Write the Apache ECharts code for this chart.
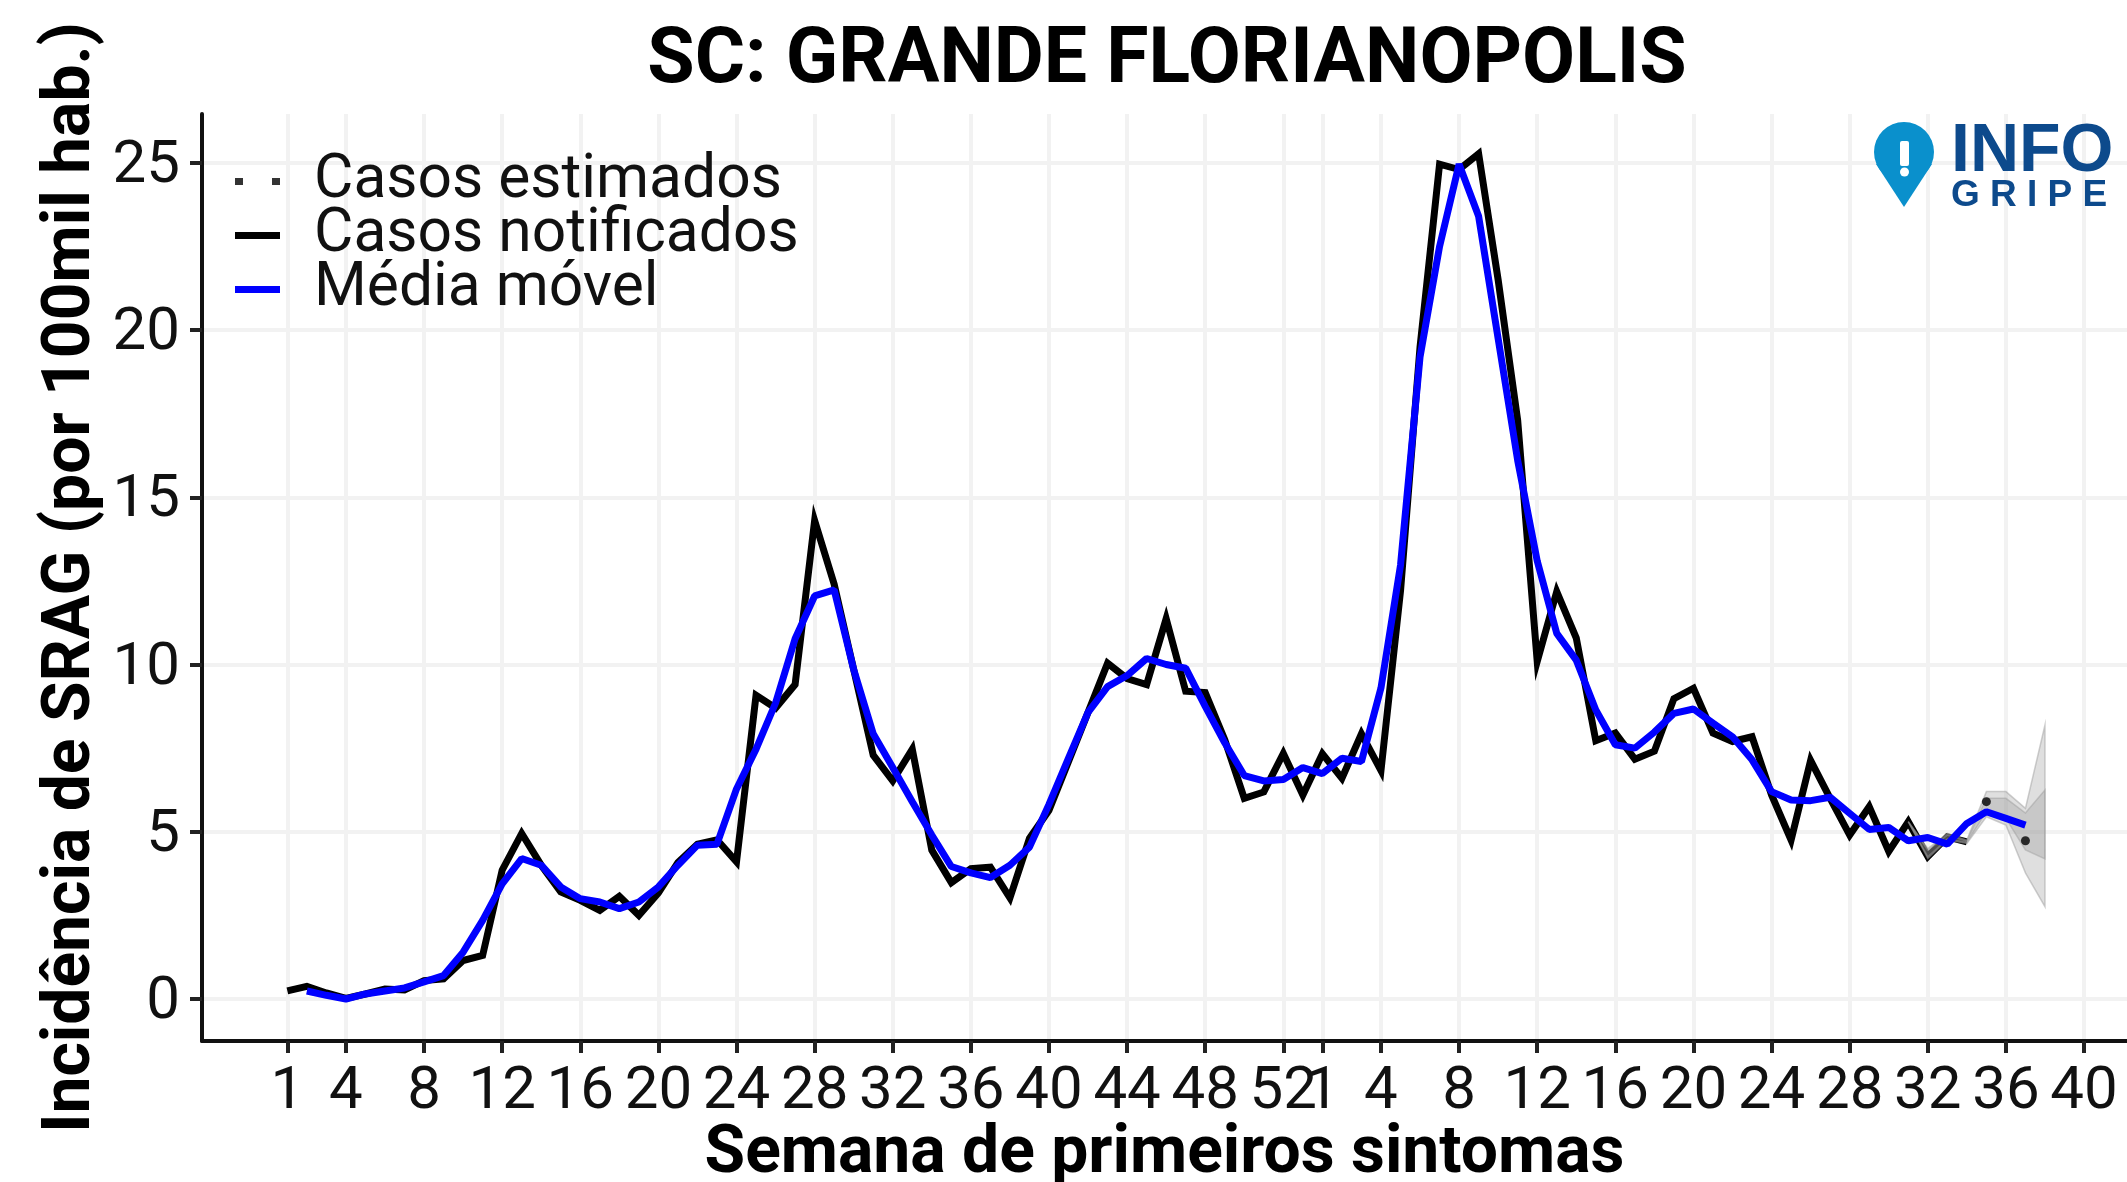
<!DOCTYPE html>
<html>
<head>
<meta charset="utf-8">
<style>html,body{margin:0;padding:0;background:#fff}#c{width:2127px;height:1182px;filter:blur(0.7px)}</style>
<script src="https://cdn.jsdelivr.net/npm/echarts@6/dist/echarts.min.js"></script>
</head>
<body>
<div id="c"></div>
<script>
// Sequential week index: 1..53 = first year, 54.. = second year
const tickIndex = [1,4,8,12,16,20,24,28,32,36,40,44,48,52,54,57,61,65,69,73,77,81,85,89,93];
const tickLabels = ['1','4','8','12','16','20','24','28','32','36','40','44','48','52','1','4','8','12','16','20','24','28','32','36','40'];
const yTicks = [0,5,10,15,20,25];

const notifiedStart = 1;
const notified = [0.24,0.38,0.18,0.02,0.15,0.3,0.27,0.55,0.6,1.15,1.3,3.85,4.95,4.0,3.2,2.95,2.65,3.07,2.5,3.17,
  4.08,4.63,4.76,4.1,9.08,8.7,9.4,14.3,12.4,9.85,7.29,6.52,7.47,4.45,3.48,3.9,3.94,3.02,4.8,5.64,
  7.1,8.57,10.04,9.58,9.4,11.37,9.2,9.16,7.75,6.0,6.19,7.34,6.1,7.33,6.6,7.93,6.83,12.2,19.5,24.96,
  24.8,25.27,21.5,17.3,10.09,12.18,10.79,7.72,7.95,7.17,7.41,8.98,9.29,7.95,7.7,7.84,6.1,4.75,7.13,6.0,
  4.9,5.75,4.41,5.3,4.26,4.85,4.7];

const movingStart = 2;
const moving = [0.24,0.11,0.0,0.15,0.24,0.33,0.51,0.7,1.4,2.35,3.44,4.2,4.0,3.35,3.0,2.9,2.7,2.9,3.35,
  4.0,4.6,4.63,6.28,7.47,8.85,10.77,12.05,12.23,9.85,7.93,6.92,5.9,4.9,3.96,3.77,3.63,4.0,4.54,5.82,
  7.2,8.57,9.34,9.67,10.18,10.0,9.89,8.75,7.66,6.68,6.52,6.56,6.92,6.74,7.2,7.1,9.3,12.97,19.2,22.5,
  24.96,23.4,19.74,16.1,13.1,10.93,10.13,8.64,7.6,7.5,7.98,8.54,8.67,8.25,7.84,7.15,6.2,5.95,5.93,6.03,
  5.55,5.07,5.13,4.73,4.83,4.63,5.25,5.6,5.4,5.2];

const estimatedWeeks = [88,90];
const estimatedValues = [5.9,4.73];

const ribbonWeeks = [84,85,86,87,88,89,90,91];
const outerLow  = [5.3,4.2,4.75,4.65,5.45,5.2,3.77,2.76];
const outerHigh = [5.3,4.5,4.95,4.75,6.2,6.2,5.7,8.19];
const innerLow  = [5.3,4.25,4.78,4.68,5.6,5.4,4.46,4.19];
const innerHigh = [5.3,4.45,4.9,4.72,6.0,6.0,5.56,6.25];

const pair = (start, arr) => arr.map((v, i) => [start + i, v]);
const ribbon = (low, high, color, stroke) => ({
  type: 'custom', silent: true, clip: true, z: 3,
  data: [[ribbonWeeks[0], low[0]]],
  renderItem: (p, api) => {
    const pts = [];
    ribbonWeeks.forEach((w, i) => pts.push(api.coord([w, high[i]])));
    for (let i = ribbonWeeks.length - 1; i >= 0; i--) pts.push(api.coord([ribbonWeeks[i], low[i]]));
    return {type: 'polygon', shape: {points: pts},
      style: {fill: color, stroke: stroke, lineWidth: 1.5}};
  }
});

const FONT = 'Roboto';
const chart = echarts.init(document.getElementById('c'), null, {renderer: 'canvas'});
chart.setOption({
  animation: false,
  backgroundColor: '#fff',
  title: {
    text: 'SC: GRANDE FLORIANOPOLIS', left: 1162, top: 19, textAlign: 'center',
    textStyle: {fontFamily: FONT, fontWeight: 'bold', fontSize: 77, color: '#000'}
  },
  grid: {left: 202, right: 0, top: 114, bottom: 141, outerBoundsMode: 'none'},
  legend: {
    left: 230, top: 146, orient: 'vertical', itemWidth: 45, itemHeight: 7, itemGap: -7,
    symbolKeepAspect: false, selectedMode: false,
    textStyle: {fontFamily: FONT, fontSize: 60.5, color: '#111', lineHeight: 51, padding: [0,0,0,29]},
    data: [
      {name: 'Casos estimados', icon: 'path://M0 0H8V7H0ZM37 0H45V7H37Z'},
      {name: 'Casos notificados', icon: 'rect'},
      {name: 'Média móvel', icon: 'path://M0 1H45V6H0Z'}
    ]
  },
  xAxis: {
    type: 'value', min: -3.37, max: 95.2,
    name: 'Semana de primeiros sintomas', nameLocation: 'center', nameGap: 81, nameMoveOverlap: false,
    nameTextStyle: {fontFamily: FONT, fontWeight: 'bold', fontSize: 66, color: '#000'},
    axisLine: {onZero: false, lineStyle: {color: '#111', width: 4}},
    axisTick: {length: 12, customValues: tickIndex, lineStyle: {color: '#222', width: 4}},
    axisLabel: {
      customValues: tickIndex, margin: 22, hideOverlap: false,
      fontFamily: FONT, fontSize: 60, color: '#111',
      formatter: v => tickLabels[tickIndex.indexOf(v)]
    },
    splitLine: {show: true, lineStyle: {color: '#f2f2f2', width: 4}}
  },
  yAxis: {
    type: 'value', min: -1.256, max: 26.46,
    name: 'Incidência de SRAG (por 100mil hab.)', nameLocation: 'center', nameGap: 97, nameRotate: 90, nameMoveOverlap: false,
    nameTextStyle: {fontFamily: FONT, fontWeight: 'bold', fontSize: 66, color: '#000'},
    axisLine: {onZero: false, lineStyle: {color: '#111', width: 4}},
    axisTick: {length: 12, customValues: yTicks, lineStyle: {color: '#222', width: 4}},
    axisLabel: {customValues: yTicks, margin: 22, verticalAlign: 'top', lineHeight: 8, fontFamily: FONT, fontSize: 60, color: '#111'},
    splitLine: {show: true, lineStyle: {color: '#f2f2f2', width: 4}}
  },
  graphic: [
    {type: 'circle', z: 50, shape: {cx: 1904, cy: 152, r: 30}, style: {fill: '#0a90cc'}},
    {type: 'polygon', z: 50, shape: {points: [[1876,164],[1932,164],[1904,207]]}, style: {fill: '#0a90cc'}},
    {type: 'rect', z: 51, shape: {x: 1900, y: 141, width: 9, height: 25, r: 2}, style: {fill: '#fff'}},
    {type: 'circle', z: 51, shape: {cx: 1904.5, cy: 172, r: 4.5}, style: {fill: '#fff'}},
    {type: 'text', z: 50, left: 1951, top: 118,
      style: {text: 'INFO', fontFamily: 'Liberation Sans', fontWeight: 'bold', fontSize: 68, fill: '#0d4a8c'}},
    {type: 'text', z: 50, left: 1951, top: 177,
      style: {text: 'G R I P E', fontFamily: 'Liberation Sans', fontWeight: 'bold', fontSize: 37, fill: '#0d4a8c'}}
  ],
  series: [
    ribbon(outerLow, outerHigh, 'rgba(150,150,150,0.3)', 'rgba(160,160,160,0.5)'),
    ribbon(innerLow, innerHigh, 'rgba(150,150,150,0.3)', 'rgba(160,160,160,0.5)'),
    {
      name: 'Casos notificados', type: 'line', z: 2, showSymbol: false, symbol: 'none',
      data: pair(notifiedStart, notified),
      lineStyle: {color: '#000', width: 7, join: 'miter'}, itemStyle: {color: '#000'}
    },
    {
      name: 'Casos estimados', type: 'scatter', z: 4, symbol: 'circle', symbolSize: 9,
      data: estimatedWeeks.map((w, i) => [w, estimatedValues[i]]),
      itemStyle: {color: '#000'}
    },
    {
      name: 'Média móvel', type: 'line', z: 5, showSymbol: false, symbol: 'none',
      data: pair(movingStart, moving),
      lineStyle: {color: '#0000ff', width: 7}, itemStyle: {color: '#0000ff'}
    }
  ]
});
</script>
</body>
</html>
